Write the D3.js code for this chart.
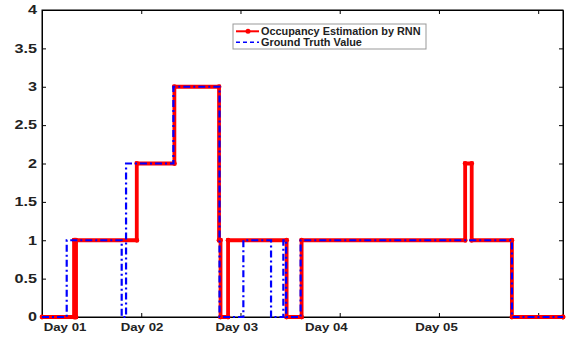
<!DOCTYPE html>
<html>
<head>
<meta charset="utf-8">
<script src="https://cdn.jsdelivr.net/npm/d3@7"></script>
<style>
  body { margin: 0; background: #fff; }
  text { font-family: "Liberation Sans", Arial, sans-serif; font-weight: bold; }
</style>
</head>
<body>
<svg id="chart" width="574" height="343"></svg>
<script>
// x in "day" units (one tick = one unit), y = occupancy
const estX = [0, 0.323, 0.333, 0.343, 0.955, 1.334, 1.784, 1.799, 1.875, 2.465, 2.616, 4.264, 4.330, 4.735, 5.25];
const estY = [0, 1, 0, 1, 2, 3, 1, 0, 1, 0, 1, 2, 1, 0, 0];
const truthX = [0, 0.249, 0.803, 0.847, 1.324, 1.789, 2.029, 2.308, 2.432, 2.46, 2.606, 4.735, 5.25];
const truthY = [0, 1, 0, 2, 3, 0, 1, 0, 1, 0, 1, 0, 0];

const yTicks = [0, 0.5, 1, 1.5, 2, 2.5, 3, 3.5, 4];
const xTicks = [1, 2, 3, 4, 5];
const dayLabels = ["Day 01", "Day 02", "Day 03", "Day 04", "Day 05"];
const dayLabelPos = [0.232, 1.008, 1.962, 2.865, 3.975];
const legendLabels = ["Occupancy Estimation by RNN", "Ground Truth Value"];

const plotL = 42, plotR = 563, plotT = 10, plotB = 317;

const svg = d3.select("#chart");
const x = d3.scaleLinear().domain([0, 5.25]).range([plotL, plotR]);
const y = d3.scaleLinear().domain([0, 4]).range([plotB, plotT]);

// frame
svg.append("rect")
  .attr("x", plotL).attr("y", plotT)
  .attr("width", plotR - plotL).attr("height", plotB - plotT)
  .attr("fill", "none").attr("stroke", "#000").attr("stroke-width", 1);

// ticks, all pointing inward
const yAxis = svg.append("g").attr("transform", `translate(${plotL},0)`)
  .call(d3.axisLeft(y).tickValues(yTicks).tickSizeInner(-4).tickSizeOuter(0).tickPadding(3.7)
    .tickFormat(d3.format("")));
yAxis.selectAll("text")
  .attr("font-size", 12)
  .attr("fill", "#222")
  .attr("transform", "scale(1.35,1)");

svg.append("g").attr("transform", `translate(${plotR},0)`)
  .call(d3.axisRight(y).tickValues(yTicks).tickSizeInner(-4).tickSizeOuter(0).tickFormat(""));
svg.append("g").attr("transform", `translate(0,${plotB})`)
  .call(d3.axisBottom(x).tickValues(xTicks).tickSizeInner(-4).tickSizeOuter(0).tickFormat(""));
svg.append("g").attr("transform", `translate(0,${plotT})`)
  .call(d3.axisTop(x).tickValues(xTicks).tickSizeInner(-4).tickSizeOuter(0).tickFormat(""));
svg.selectAll(".domain").attr("stroke", "#000");
svg.selectAll(".tick line").attr("stroke", "#000");

// day labels
svg.append("g").selectAll("text")
  .data(dayLabels)
  .join("text")
  .attr("transform", (d, i) => `translate(${x(dayLabelPos[i])},331) scale(1.15,1)`)
  .attr("text-anchor", "middle")
  .attr("font-size", 11.5)
  .attr("fill", "#222")
  .text(d => d);

// series
const estData = estX.map((v, i) => [v, estY[i]]);
const truthData = truthX.map((v, i) => [v, truthY[i]]);
const line = d3.line().x(d => x(d[0])).y(d => y(d[1])).curve(d3.curveStepAfter);

svg.append("path")
  .datum(estData)
  .attr("d", line)
  .attr("fill", "none")
  .attr("stroke", "#ff0000")
  .attr("stroke-width", 3.8);

// markers at the corners of the estimate
const corners = [];
estData.forEach((d, i) => {
  corners.push(d);
  if (i < estData.length - 1) corners.push([estData[i + 1][0], d[1]]);
});
svg.append("g").selectAll("circle")
  .data(corners)
  .join("circle")
  .attr("cx", d => x(d[0]))
  .attr("cy", d => y(d[1]))
  .attr("r", 2.4)
  .attr("fill", "#ff0000");

svg.append("path")
  .datum(truthData)
  .attr("d", line)
  .attr("fill", "none")
  .attr("stroke", "#0000ff")
  .attr("stroke-width", 2.2)
  .attr("stroke-dasharray", "7,3,2,3");

// legend
const lg = svg.append("g");
lg.append("rect")
  .attr("x", 233).attr("y", 24).attr("width", 193).attr("height", 25)
  .attr("fill", "#fff").attr("stroke", "#999").attr("stroke-width", 1);
lg.append("line")
  .attr("x1", 236).attr("x2", 259).attr("y1", 31.3).attr("y2", 31.3)
  .attr("stroke", "#ff0000").attr("stroke-width", 2);
lg.append("circle").attr("cx", 248).attr("cy", 31.3).attr("r", 2.5).attr("fill", "#ff0000");
lg.append("line")
  .attr("x1", 236).attr("x2", 259).attr("y1", 42.3).attr("y2", 42.3)
  .attr("stroke", "#0000ff").attr("stroke-width", 1.5)
  .attr("stroke-dasharray", "4,3");
lg.selectAll("text.lab")
  .data(legendLabels)
  .join("text")
  .attr("class", "lab")
  .attr("transform", (d, i) => `translate(261,${35 + i * 11}) scale(1.09,1)`)
  .attr("font-size", 10)
  .attr("fill", "#222")
  .text(d => d);
</script>
</body>
</html>
